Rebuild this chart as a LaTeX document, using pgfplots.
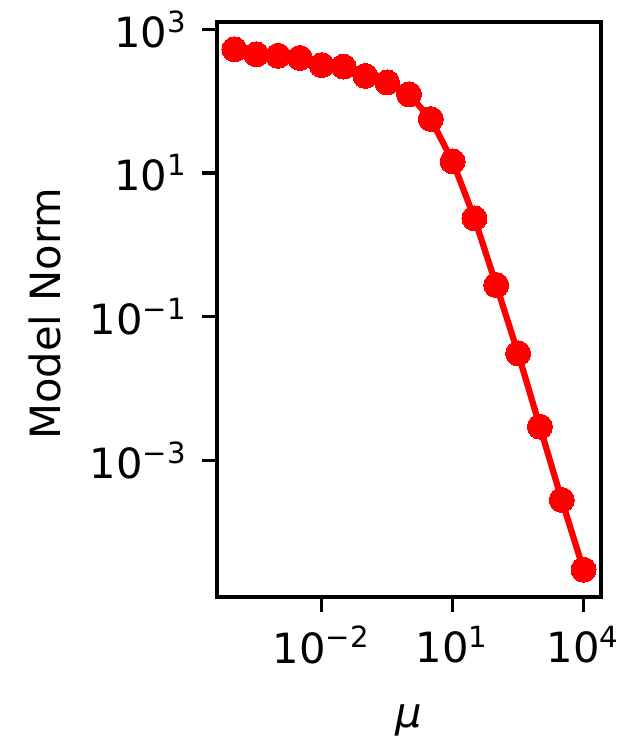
\documentclass[border=0pt]{standalone}
\usepackage{fontspec}
\setmainfont{DejaVu Sans}
\usepackage{pgfplots}
\pgfplotsset{compat=1.18}

% model norm against regularisation weight mu
\pgfplotstableread{
mu          norm
1e-4        525
3.1623e-4   447
1e-3        427
3.1623e-3   398
1e-2        316
3.1623e-2   302
1e-1        224
3.1623e-1   182
1           124
3.1623      56.2
10          14.5
31.623      2.34
100         0.275
316.23      0.0309
1000        0.00295
3162.3      2.82e-4
10000       3.02e-5
}\normtable

\begin{document}
\fontsize{10bp}{12bp}\selectfont
\begin{tikzpicture}
\begin{axis}[
  at={(0,0)}, anchor=south west,
  scale only axis, width=92.16bp, height=138bp,
  xmode=log, ymode=log,
  xmin=3.981e-5, xmax=2.5119e4,
  ymin=1.2589e-5, ymax=1.2589e3,
  xtick={1e-2,1e1,1e4},
  xticklabels={10\textsuperscript{−2},10\textsuperscript{1},10\textsuperscript{4}},
  ytick={1e-3,1e-1,1e1,1e3},
  yticklabels={10\textsuperscript{−3},10\textsuperscript{−1},10\textsuperscript{1},10\textsuperscript{3}},
  minor xtick={}, minor ytick={},
  tick align=outside, xtick pos=bottom, ytick pos=left,
  major tick length=3.5bp,
  every tick/.style={black, line width=0.8bp},
  axis line style={black, line width=0.8bp},
  xlabel={\textit{μ}}, ylabel={Model Norm},
  every axis x label/.style={at={(axis description cs:0.5,0)}, anchor=base, yshift=-31.2bp},
  every axis y label/.style={at={(axis description cs:0,0.5)}, xshift=-41.3bp, yshift=-1bp, anchor=center, rotate=90},
  clip=false,
]
\addplot[red, line width=1.5bp, mark=*, mark size=3bp, mark options={draw=red, fill=red, line width=0pt}]
  table[x=mu, y=norm] {\normtable};
\end{axis}
\pgfresetboundingbox
\path (-52.08bp,-34.08bp) rectangle (96.48bp,143.28bp);
\end{tikzpicture}
\end{document}
